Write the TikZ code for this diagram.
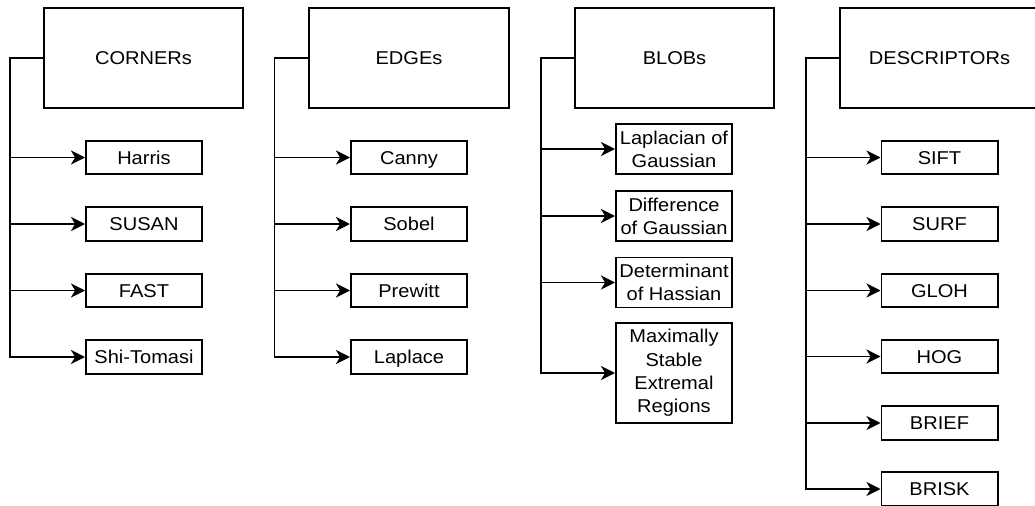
\documentclass[tikz,border=0pt]{standalone}
\usepackage{fontspec}
\setmainfont{Liberation Sans}[FakeStretch=1.08]
\usetikzlibrary{arrows.meta, positioning}

\begin{document}
\begin{tikzpicture}[x=0.025cm, y=-0.025cm, line width=1.4pt,
  >={Stealth[length=10pt, width=10pt, inset=3pt]},
  every node/.style={font=\fontsize{13.2}{16.5}\selectfont, align=center, inner sep=0pt},
  catbox/.style={draw, minimum width=4.975cm, minimum height=2.5cm,
    text height=9.3pt, text depth=0pt},
  itembox/.style={draw, minimum width=2.9cm, minimum height=0.83cm,
    text height=9.3pt, text depth=0pt},
  tallbox/.style={draw, minimum width=2.9cm, minimum height=1.25cm},
  bus/.style={->}]

% Frame
\useasboundingbox (0,0) rectangle (1035,506);
\clip (0,0) rectangle (1035,506);

% Categories
\node[catbox] (corners) at (143.5,58) {CORNERs};
\node[catbox] (edges)   at (409,58)   {EDGEs};
\node[catbox] (blobs)   at (674.5,58) {BLOBs};
\node[catbox] (desc)    at (939.5,58) {DESCRIPTORs};

% Corner detectors
\node[itembox] (harris) at (144,157.5) {Harris};
\node[itembox] (susan)  at (144,224)   {SUSAN};
\node[itembox] (fast)   at (144,290.5) {FAST};
\node[itembox] (shi)    at (144,357)   {Shi-Tomasi};
\foreach \n in {harris, susan, fast, shi}
  \draw[bus] (corners.west) -- ++(-33,0) |- (\n.west);

% Edge detectors
\node[itembox] (canny)   at (409,157.5) {Canny};
\node[itembox] (sobel)   at (409,224)   {Sobel};
\node[itembox] (prewitt) at (409,290.5) {Prewitt};
\node[itembox] (laplace) at (409,357)   {Laplace};
\foreach \n in {canny, sobel, prewitt, laplace}
  \draw[bus] (edges.west) -- ++(-34,0) |- (\n.west);

% Blob detectors
\node[tallbox] (log)  at (674,149)   {Laplacian of\\Gaussian};
\node[tallbox] (dog)  at (674,216)   {Difference\\of Gaussian};
\node[tallbox] (doh)  at (674,282.5) {Determinant\\of Hassian};
\node[draw, minimum width=2.9cm, minimum height=2.5cm] (mser) at (674,373)
  {Maximally\\Stable\\Extremal\\Regions};
\foreach \n in {log, dog, doh, mser}
  \draw[bus] (blobs.west) -- ++(-33,0) |- (\n.west);

% Descriptors
\node[itembox] (sift)  at (939.5,157.5) {SIFT};
\node[itembox] (surf)  at (939.5,224)   {SURF};
\node[itembox] (gloh)  at (939.5,290.5) {GLOH};
\node[itembox] (hog)   at (939.5,356.5) {HOG};
\node[itembox] (brief) at (939.5,423)   {BRIEF};
\node[itembox] (brisk) at (939.5,489)   {BRISK};
\foreach \n in {sift, surf, gloh, hog, brief, brisk}
  \draw[bus] (desc.west) -- ++(-33,0) |- (\n.west);

\end{tikzpicture}
\end{document}
